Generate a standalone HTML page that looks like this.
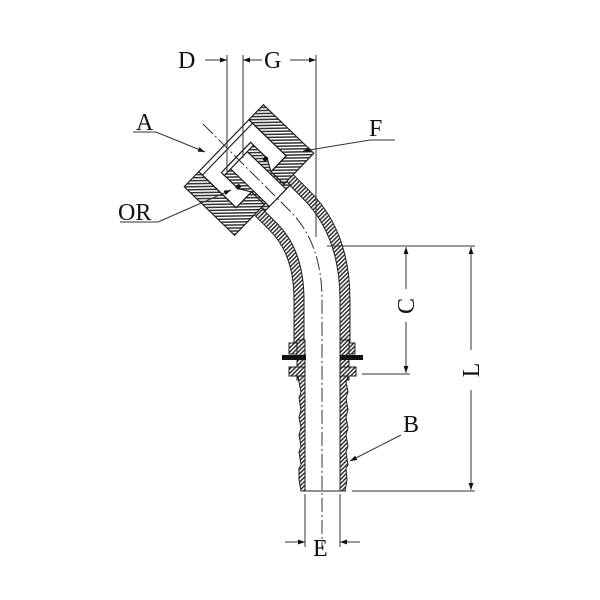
<!DOCTYPE html>
<html><head><meta charset="utf-8"><style>
html,body{margin:0;padding:0;background:#fff}
svg{display:block}
text{font-family:"Liberation Serif",serif;font-size:24px;fill:#111}
</style></head><body>
<svg width="600" height="600" viewBox="0 0 600 600" xmlns="http://www.w3.org/2000/svg">
<defs>
<pattern id="h" width="3" height="3" patternUnits="userSpaceOnUse" patternTransform="rotate(45)">
<rect width="3" height="3" fill="#fff"/><rect x="0" y="0" width="1.5" height="3" fill="#333"/>
</pattern>
<marker id="ar" viewBox="0 0 10 10" refX="10" refY="5" markerWidth="9" markerHeight="7" orient="auto-start-reverse" markerUnits="userSpaceOnUse">
<path d="M0,1.5 L10,5 L0,8.5 z" fill="#111"/></marker>
</defs>

<g fill="none" stroke-linecap="butt">
<path d="M 245 166 L 290 211 Q 322 243 322 300 L 322 345" stroke="#222" stroke-width="57"/>
<path d="M 245 166 L 290 211 Q 322 243 322 300 L 322 345" stroke="url(#h)" stroke-width="55"/>
<path d="M 245 166 L 290 211 Q 322 243 322 300 L 322 345" stroke="#222" stroke-width="37"/>
<path d="M 245 166 L 290 211 Q 322 243 322 300 L 322 345" stroke="#fff" stroke-width="35"/>
</g>

<g stroke="#222" stroke-width="1" fill="url(#h)">
<rect x="289" y="343" width="16" height="11"/><rect x="340" y="343" width="15" height="11"/>
<rect x="297" y="340" width="8" height="40"/><rect x="340" y="340" width="9" height="40"/>
<rect x="289" y="367" width="16" height="9"/><rect x="340" y="367" width="16" height="9"/>
<path d="M298 376 L305 376 L305 491 L301 491 L299 480 L299 468 L301 465 L299 452 L301 446 L299 435 L301 428 L299 417 L301 410 L299 398 L301 392 L299 382 Z"/>
<path d="M340 376 L348 376 L346 382 L348 392 L346 398 L348 410 L346 417 L348 428 L346 435 L348 446 L346 452 L348 465 L346 468 L347 480 L345 491 L340 491 Z"/>
</g>
<rect x="282" y="355" width="24" height="5" fill="#111"/>
<rect x="340" y="355" width="23" height="5" fill="#111"/>
<line x1="301" y1="491" x2="346" y2="491" stroke="#222" stroke-width="1"/>

<g transform="translate(249,170) rotate(44)" stroke="#222" stroke-width="1.2">
<path d="M-35,-57 L35,-57 L35,-14 L17,-14 L17,-36 L-35,-36 Z" fill="url(#h)"/>
<path d="M-35,57 L35,57 L35,14 L17,14 L17,36 L-35,36 Z" fill="url(#h)"/>
<rect x="-35" y="-36" width="52" height="72" fill="#fff"/>
<rect x="-30" y="-36" width="47" height="72" fill="none"/>
<path d="M-18,-21 L5,-21 L17,-14 L35,-14 L35,-18 L40,-18 L40,18 L35,18 L35,14 L17,14 L5,21 L-18,21 Z" fill="url(#h)"/>
<path d="M-18,-12 L40,-12 L40,12 L-18,12 Z" fill="#fff"/>
<rect x="-18" y="-21" width="4" height="42" fill="#fff"/>
<rect x="2" y="-22" width="4" height="5" fill="#111" stroke="none"/>
<rect x="2" y="17" width="4" height="5" fill="#111" stroke="none"/>
</g>

<path d="M203 124 L290 211 Q322 243 322 300 L322 548" fill="none" stroke="#333" stroke-width="1" stroke-dasharray="14,3,2,3"/>

<g stroke="#333" stroke-width="1" fill="none">
<line x1="227" y1="55" x2="227" y2="172"/>
<line x1="243" y1="55" x2="243" y2="158"/>
<line x1="316" y1="55" x2="316" y2="237"/>
<line x1="205" y1="60" x2="227" y2="60" marker-end="url(#ar)"/>
<line x1="262" y1="60" x2="243" y2="60" marker-end="url(#ar)"/>
<line x1="290" y1="60" x2="316" y2="60" marker-end="url(#ar)"/>
<line x1="327" y1="246" x2="475" y2="246"/>
<line x1="362" y1="374" x2="410" y2="374"/>
<line x1="352" y1="491" x2="475" y2="491"/>
<line x1="406" y1="289" x2="406" y2="247" marker-end="url(#ar)"/>
<line x1="406" y1="322" x2="406" y2="373" marker-end="url(#ar)"/>
<line x1="471" y1="350" x2="471" y2="247" marker-end="url(#ar)"/>
<line x1="471" y1="390" x2="471" y2="490" marker-end="url(#ar)"/>
<line x1="305" y1="494" x2="305" y2="547"/>
<line x1="340" y1="494" x2="340" y2="547"/>
<line x1="285" y1="542" x2="305" y2="542" marker-end="url(#ar)"/>
<line x1="360" y1="542" x2="340" y2="542" marker-end="url(#ar)"/>
<line x1="133" y1="132" x2="156" y2="132"/>
<line x1="156" y1="132" x2="205" y2="152" marker-end="url(#ar)"/>
<line x1="395" y1="140" x2="370" y2="140"/>
<line x1="370" y1="140" x2="303" y2="151" marker-end="url(#ar)"/>
<line x1="120" y1="222" x2="158" y2="222"/>
<line x1="158" y1="222" x2="231" y2="190" marker-end="url(#ar)"/>
<line x1="401" y1="435" x2="350" y2="461" marker-end="url(#ar)"/>
</g>

<text x="178" y="68">D</text>
<text x="264" y="68">G</text>
<text x="136" y="130">A</text>
<text x="369" y="136">F</text>
<text x="118" y="220">OR</text>
<text x="403" y="432">B</text>
<text x="313" y="556">E</text>
<text transform="translate(414,306) rotate(-90)" text-anchor="middle">C</text>
<text transform="translate(479,370) rotate(-90)" text-anchor="middle">L</text>
</svg>
</body></html>
